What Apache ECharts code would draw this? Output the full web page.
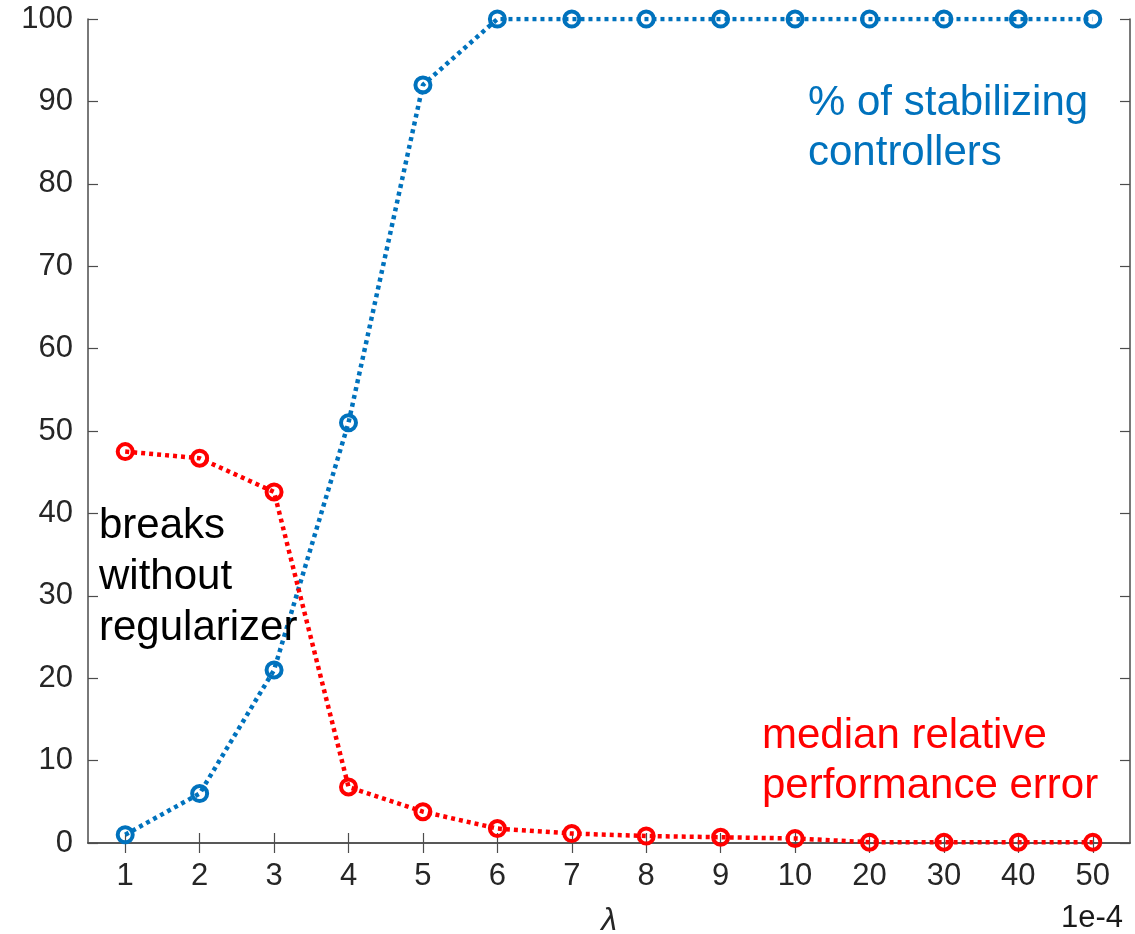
<!DOCTYPE html>
<html>
<head>
<meta charset="utf-8">
<script src="https://cdn.jsdelivr.net/npm/echarts@6/dist/echarts.min.js"></script>
<style>
  html, body { margin: 0; padding: 0; background: #fff; }
  #chart { width: 1135px; height: 934px; }
</style>
</head>
<body>
<div id="chart"></div>
<script>
// Regularization weight lambda (in units of 1e-4)
const lambdaLabels = ['1', '2', '3', '4', '5', '6', '7', '8', '9', '10', '20', '30', '40', '50'];
// Percentage of controllers that stabilize the system
const stabilizingPct = [1, 6, 21, 51, 92, 100, 100, 100, 100, 100, 100, 100, 100, 100];
// Median relative performance error (%)
const medianRelError = [47.5, 46.7, 42.6, 6.8, 3.8, 1.75, 1.15, 0.85, 0.7, 0.55, 0.1, 0.1, 0.1, 0.1];
// Value axis ticks
const yMin = 0, yMax = 100, yStep = 10;

const BLUE = '#0072BD';
const RED = '#FF0000';
const AXIS = '#4d4d4d';
const TEXT = '#262626';
const FONT = '"Liberation Sans", Arial, Helvetica, sans-serif';

const chart = echarts.init(document.getElementById('chart'), null, { renderer: 'canvas' });

const axisLine = { show: true, lineStyle: { color: AXIS, width: 1.5 } };
const axisTick = { show: true, inside: true, length: 10, lineStyle: { color: AXIS, width: 1.2 } };

function lineSeries(name, data, color) {
  return {
    name: name,
    type: 'line',
    data: data,
    xAxisIndex: 0,
    yAxisIndex: 0,
    symbol: 'circle',
    symbolSize: 15,
    showAllSymbol: true,
    lineStyle: { color: color, width: 4.5, type: [4, 4], cap: 'butt' },
    itemStyle: { color: 'transparent', borderColor: color, borderWidth: 4 },
    emphasis: { disabled: true },
    animation: false,
    z: 3
  };
}

chart.setOption({
  animation: false,
  backgroundColor: '#ffffff',
  grid: { left: 88, right: 5, top: 19, bottom: 91, containLabel: false, outerBoundsMode: 'none' },
  xAxis: [
    {
      type: 'category',
      data: lambdaLabels,
      position: 'bottom',
      boundaryGap: true,
      axisLine: axisLine,
      axisTick: Object.assign({ alignWithLabel: true }, axisTick),
      axisLabel: { color: TEXT, fontSize: 31, fontFamily: FONT, margin: 18 },
      splitLine: { show: false },
      name: 'λ',
      nameLocation: 'middle',
      nameGap: 62,
      nameTextStyle: { color: TEXT, fontSize: 32, fontStyle: 'italic', fontFamily: FONT }
    },
    {
      type: 'category',
      data: lambdaLabels,
      position: 'top',
      boundaryGap: true,
      axisLine: axisLine,
      axisTick: Object.assign({ alignWithLabel: true }, axisTick),
      axisLabel: { show: false },
      splitLine: { show: false }
    }
  ],
  yAxis: [
    {
      type: 'value',
      min: yMin,
      max: yMax,
      interval: yStep,
      position: 'left',
      axisLine: axisLine,
      axisTick: axisTick,
      axisLabel: { color: TEXT, fontSize: 31, fontFamily: FONT, margin: 15 },
      splitLine: { show: false }
    },
    {
      type: 'value',
      min: yMin,
      max: yMax,
      interval: yStep,
      position: 'right',
      axisLine: axisLine,
      axisTick: axisTick,
      axisLabel: { show: false },
      splitLine: { show: false }
    }
  ],
  series: [
    lineSeries('% of stabilizing controllers', stabilizingPct, BLUE),
    lineSeries('median relative performance error', medianRelError, RED)
  ],
  graphic: [
    {
      type: 'text', left: 808, top: 78, z: 10,
      style: { text: '% of stabilizing\ncontrollers', fill: BLUE, font: '42px ' + FONT, lineHeight: 50 }
    },
    {
      type: 'text', left: 99, top: 501, z: 10,
      style: { text: 'breaks\nwithout\nregularizer', fill: '#000000', font: '42px ' + FONT, lineHeight: 51 }
    },
    {
      type: 'text', left: 762, top: 711, z: 10,
      style: { text: 'median relative\nperformance error', fill: RED, font: '42px ' + FONT, lineHeight: 50 }
    },
    {
      type: 'text', right: 12, top: 903, z: 10,
      style: { text: '1e-4', fill: '#1a1a1a', font: '31px ' + FONT }
    }
  ]
});
</script>
</body>
</html>
